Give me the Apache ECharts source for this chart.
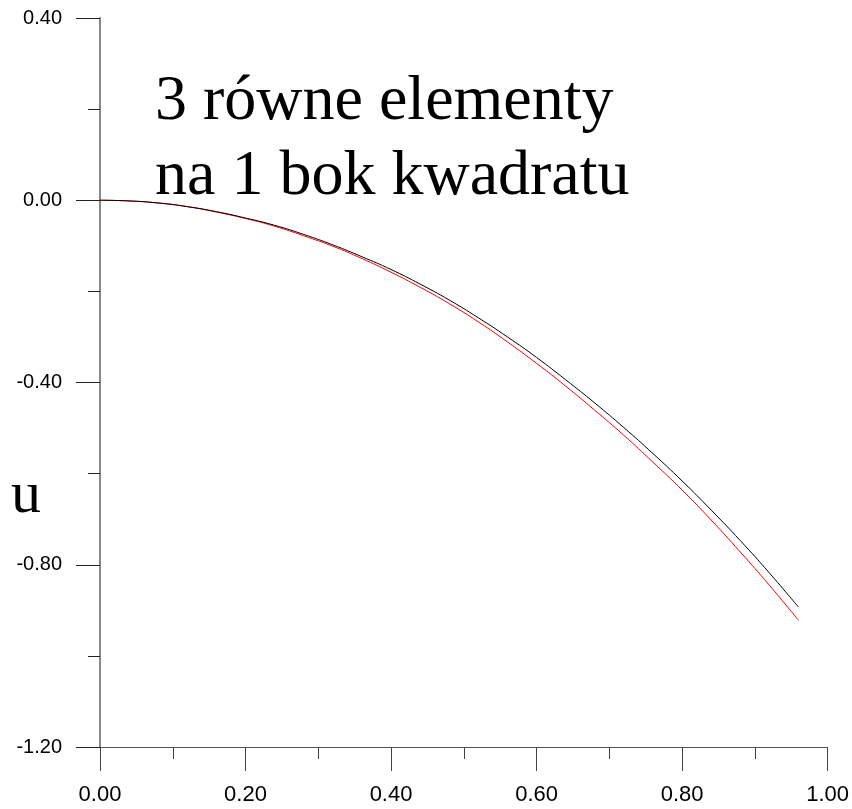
<!DOCTYPE html>
<html>
<head>
<meta charset="utf-8">
<script src="https://cdn.jsdelivr.net/npm/echarts@6/dist/echarts.min.js"></script>
<style>
  html, body { margin: 0; padding: 0; background: #fff; }
  #chart { width: 852px; height: 809px; }
</style>
</head>
<body>
<div id="chart"></div>
<script>
// Position along the side of the square
const xs = [0, 0.04, 0.08, 0.12, 0.16, 0.20, 0.24, 0.28, 0.32, 0.36, 0.40, 0.44, 0.48,
            0.52, 0.56, 0.60, 0.64, 0.68, 0.72, 0.76, 0.80, 0.84, 0.88, 0.92, 0.96];
// Displacement u, solution drawn in black
const uBlack = [0, -0.0015, -0.006, -0.014, -0.025, -0.039, -0.055, -0.075, -0.098, -0.124, -0.152, -0.184, -0.219,
                -0.258, -0.300, -0.345, -0.394, -0.445, -0.499, -0.556, -0.616, -0.680, -0.747, -0.818, -0.893];
// Displacement u, solution drawn in red
const uRed = [0, -0.0015, -0.006, -0.014, -0.026, -0.040, -0.057, -0.078, -0.101, -0.128, -0.158, -0.191, -0.227,
              -0.267, -0.311, -0.358, -0.408, -0.461, -0.516, -0.575, -0.636, -0.702, -0.772, -0.845, -0.922];

const titleLines = ['3 równe elementy', 'na 1 bok kwadratu'];
const yName = 'u';

const pairs = (a, b) => a.map((v, i) => [v, b[i]]);

const chart = echarts.init(document.getElementById('chart'), null, { renderer: 'canvas' });

chart.setOption({
  backgroundColor: '#ffffff',
  animation: false,
  title: {
    text: titleLines.join('\n'),
    left: 150,
    top: 60,
    textStyle: {
      fontFamily: '"Liberation Serif", "Times New Roman", serif',
      fontWeight: 'normal',
      fontSize: 64,
      lineHeight: 75,
      color: '#000'
    }
  },
  graphic: [{
    type: 'text',
    left: 11,
    top: 466,
    style: {
      text: yName,
      font: '60px "Liberation Serif", "Times New Roman", serif',
      fill: '#000'
    }
  }],
  grid: { left: 100, right: 24, top: 18, bottom: 62, containLabel: false },
  xAxis: {
    type: 'value',
    min: 0,
    max: 1,
    interval: 0.2,
    axisLine: { onZero: false, lineStyle: { color: '#555', width: 1 } },
    axisTick: { show: true, inside: false, length: 24, lineStyle: { color: '#444', width: 1 } },
    minorTick: { show: true, splitNumber: 2, length: 12, lineStyle: { color: '#444', width: 1 } },
    splitLine: { show: false },
    axisLabel: {
      margin: 37,
      fontFamily: '"Liberation Sans", Arial, sans-serif',
      fontSize: 22,
      color: '#000',
      formatter: v => v.toFixed(2)
    }
  },
  yAxis: {
    type: 'value',
    min: -1.2,
    max: 0.4,
    interval: 0.4,
    axisLine: { show: true, onZero: false, lineStyle: { color: '#888', width: 2 } },
    axisTick: { show: true, inside: false, length: 24, lineStyle: { color: '#222', width: 1 } },
    minorTick: { show: true, splitNumber: 2, length: 12, lineStyle: { color: '#222', width: 1 } },
    splitLine: { show: false },
    axisLabel: {
      margin: 38,
      fontFamily: '"Liberation Sans", Arial, sans-serif',
      fontSize: 20,
      color: '#000',
      formatter: v => v.toFixed(2)
    }
  },
  series: [
    {
      type: 'line',
      data: pairs(xs, uRed),
      smooth: true,
      showSymbol: false,
      lineStyle: { color: '#ff0000', width: 1 }
    },
    {
      type: 'line',
      data: pairs(xs, uBlack),
      smooth: true,
      showSymbol: false,
      lineStyle: { color: '#000000', width: 1 }
    }
  ]
});
</script>
</body>
</html>
